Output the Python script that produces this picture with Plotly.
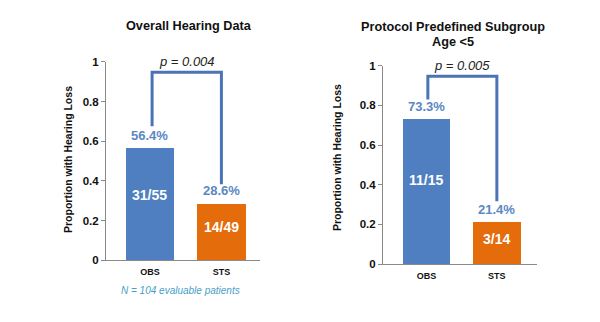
import plotly.graph_objects as go

categories = ["OBS", "STS"]
overall_values = [0.564, 0.286]
overall_pct = ["56.4%", "28.6%"]
overall_counts = ["31/55", "14/49"]
overall_p = "p = 0.004"
sub_values = [0.733, 0.214]
sub_pct = ["73.3%", "21.4%"]
sub_counts = ["11/15", "3/14"]
sub_p = "p = 0.005"
y_ticks = [0, 0.2, 0.4, 0.6, 0.8, 1]
y_ticktext = ["0", "0.2", "0.4", "0.6", "0.8", "1"]
bar_colors = ["#4F7FC0", "#E46C0A"]

BLUE_TXT = "#5A88C2"
BRACKET = "#4A74B5"
FONT = "Liberation Sans"
W, H = 600, 322

fig = go.Figure()
xs = [0, 1]

panels = [
    dict(vals=overall_values, pct=overall_pct, cnt=overall_counts, p=overall_p,
         xa="x", ya="y", left_bottom=0.675, right_bottom=0.383, top=0.947, dx=0.03),
    dict(vals=sub_values, pct=sub_pct, cnt=sub_counts, p=sub_p,
         xa="x2", ya="y2", left_bottom=0.83, right_bottom=0.316, top=0.947, dx=0.02),
]

annotations = []
for pn in panels:
    fig.add_trace(go.Bar(x=xs, y=pn["vals"], width=0.68, marker=dict(color=bar_colors, line=dict(width=0)),
                         xaxis=pn["xa"], yaxis=pn["ya"], showlegend=False, hoverinfo="skip"))
    fig.add_trace(go.Scatter(x=[xs[0] + pn["dx"], xs[0] + pn["dx"], xs[1], xs[1]],
                             y=[pn["left_bottom"], pn["top"], pn["top"], pn["right_bottom"]],
                             mode="lines", line=dict(color=BRACKET, width=3),
                             xaxis=pn["xa"], yaxis=pn["ya"], showlegend=False, hoverinfo="skip"))
    for i in range(2):
        annotations.append(dict(x=xs[i], y=pn["vals"][i], xref=pn["xa"], yref=pn["ya"],
                                text="<b>" + pn["pct"][i] + "</b>", showarrow=False,
                                yanchor="bottom", yshift=3,
                                font=dict(family=FONT, size=13, color=BLUE_TXT)))
        annotations.append(dict(x=xs[i], y=pn["vals"][i] * 0.58, xref=pn["xa"], yref=pn["ya"],
                                text="<b>" + pn["cnt"][i] + "</b>", showarrow=False,
                                yanchor="middle",
                                font=dict(family=FONT, size=14, color="white")))
    annotations.append(dict(x=0.5 + pn["dx"] / 2, y=pn["top"], xref=pn["xa"], yref=pn["ya"],
                            text="<i>" + pn["p"] + "</i>", showarrow=False,
                            yanchor="bottom", yshift=1,
                            font=dict(family=FONT, size=13, color="#222222")))


def paper_text(px, py, text, size, color="#111111", angle=0):
    annotations.append(dict(x=px / W, y=1 - py / H, xref="paper", yref="paper",
                            xanchor="center", yanchor="middle", text=text, showarrow=False,
                            textangle=angle, font=dict(family=FONT, size=size, color=color)))


# titles
paper_text(189, 21, "<b>Overall Hearing Data</b>", 12.7)
paper_text(453, 22, "<b>Protocol Predefined Subgroup</b>", 12.7)
paper_text(453, 37, "<b>Age &lt;5</b>", 12.7)
# y titles
paper_text(68, 160, "<b>Proportion with Hearing Loss</b>", 10.5, angle=-90)
paper_text(337, 158, "<b>Proportion with Hearing Loss</b>", 10.5, angle=-90)
# footnote
paper_text(180, 295, "<i>N = 104 evaluable patients</i>", 10, color="#4A9EC6")

xaxis_common = dict(tickvals=xs, ticktext=["<b>%s</b>" % c for c in categories],
                    showline=True, linecolor="#8A8A8A", linewidth=1,
                    ticks="outside", ticklen=3, tickcolor="rgba(0,0,0,0)",
                    showgrid=False, zeroline=False, fixedrange=True,
                    tickfont=dict(family=FONT, size=9, color="#111111"))
yaxis_common = dict(range=[0, 1], tickvals=y_ticks, ticktext=["<b>%s</b>" % t for t in y_ticktext],
                    showline=True, linecolor="#8A8A8A", linewidth=1, ticks="outside",
                    ticklen=4, tickcolor="#8A8A8A", showgrid=False, zeroline=False,
                    tickfont=dict(family=FONT, size=11.5, color="#111111"))

fig.update_layout(
    width=W, height=H, margin=dict(l=0, r=0, t=0, b=0, pad=0), autosize=False,
    paper_bgcolor="white", plot_bgcolor="white",
    xaxis=dict(domain=[106 / W, 260 / W], range=[-0.615, 1.54], anchor="y", **xaxis_common),
    yaxis=dict(domain=[1 - 264 / H, 1 - 58 / H], anchor="x", **yaxis_common),
    xaxis2=dict(domain=[383 / W, 537 / W], range=[-0.617, 1.57], anchor="y2", **xaxis_common),
    yaxis2=dict(domain=[1 - 268 / H, 1 - 62 / H], anchor="x2", **yaxis_common),
    annotations=annotations,
    bargap=0,
)

fig.write_html("out.html")
